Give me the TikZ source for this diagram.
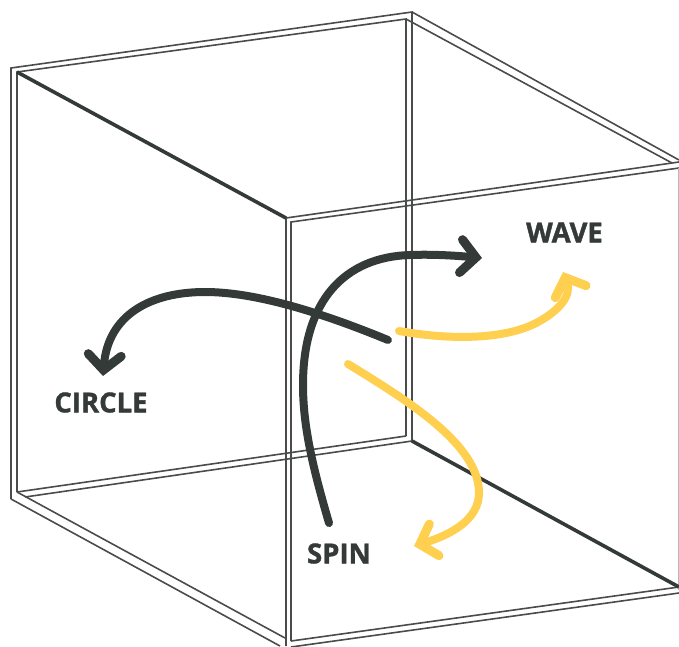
\documentclass[tikz,border=0pt]{standalone}
\usepackage{fontspec}
\newfontfamily\tagfont[BoldFeatures={FakeBold=1.3}]{Open Sans}
\usepackage{tikz}
\usetikzlibrary{arrows.meta}
\definecolor{inkdark}{HTML}{333A38}
\definecolor{inkgrey}{HTML}{4A4C4B}
\definecolor{inkyellow}{HTML}{FFD050}
\tikzset{
  frameline/.style={draw=inkgrey,line width=1.6pt,line join=miter},
  heavyline/.style={draw=inkdark,line width=3.6pt},
  curvearrow/.style={line width=8pt,line cap=round,-{Straight Barb[length=15pt,width=33pt,line width=9pt,line cap=round,line join=miter]}},
  tag/.style={font=\tagfont\bfseries\fontsize{27.5}{27.5}\selectfont,text=inkdark,inner sep=0pt}
}
\begin{document}
\begin{tikzpicture}[x=1pt,y=-1pt]
\useasboundingbox (0,0) rectangle (679,646);
\coordinate (outerTL) at (11,68);
\coordinate (innerTL) at (17,72);
\coordinate (outerBackT) at (412,12);
\coordinate (innerBackT) at (406,19);
\coordinate (outerBL) at (11,499);
\coordinate (innerBL) at (17,492);
\coordinate (outerBackB) at (412,441);
\coordinate (innerBackB) at (406,436);
\coordinate (frontT) at (286,218);
\coordinate (frontTin) at (291,222);
\coordinate (frontB) at (286,646);
\coordinate (frontBin) at (291,641);
\coordinate (rightT) at (679,162);
\coordinate (rightTin) at (679,168);
\coordinate (rightB) at (679,587);
\coordinate (rightBout) at (679,593);
\draw[frameline] (frontB) -- (frontT) -- (rightT);
\draw[frameline] (frontBin) -- (frontTin) -- (rightTin);
\draw[frameline] (outerBL) -- (outerTL) -- (outerBackT) -- (outerBackB);
\draw[frameline] (innerBL) -- (innerTL) -- (innerBackT) -- (innerBackB);
\draw[frameline] (outerBackT) -- (679,160);
\draw[frameline] (innerBackT) -- (672,163);
\draw[frameline] (innerBL) -- (innerBackB);
\draw[frameline] (25,497) -- (outerBackB);
\draw[frameline] (outerBL) -- (280,646);
\draw[frameline] (innerBL) -- (285,638);
\draw[frameline] (frontBin) -- (rightB);
\draw[frameline] (291,647) -- (rightBout);
\draw[draw=inkgrey!40,line width=1pt] (678.5,168) -- (678.5,590);
\draw[heavyline] (innerTL) -- (frontT);
\draw[heavyline] (outerBackB) -- (rightB);
\coordinate (circleStart) at (388,340);
\coordinate (circleEnd) at (103,376);
\coordinate (spinStart) at (329,523);
\coordinate (spinEnd) at (482,258);
\coordinate (waveStart) at (399,331);
\coordinate (waveEnd) at (563,272);
\coordinate (swirlStart) at (348,364);
\coordinate (swirlEnd) at (414,546);
\draw[curvearrow,inkdark] (circleStart) .. controls (320,312) and (255,292) .. (205,292) .. controls (150,292) and (108,315) .. (circleEnd);
\draw[curvearrow,inkdark] (spinStart) .. controls (312,465) and (303,425) .. (303,385) .. controls (303,300) and (345,257) .. (410,255) .. controls (435,254) and (460,256) .. (spinEnd);
\draw[curvearrow,inkyellow] (waveStart) .. controls (450,340) and (505,340) .. (538,322) .. controls (560,310) and (572,295) .. (waveEnd);
\draw[curvearrow,inkyellow] (swirlStart) .. controls (410,402) and (479,445) .. (479,493) .. controls (479,520) and (450,535) .. (swirlEnd);
\node[tag] (wave) at (564.5,232.5) {WAVE};
\node[tag] (circle) at (101,402.5) {CIRCLE};
\node[tag] (spin) at (339,553.5) {SPIN};
\end{tikzpicture}
\end{document}
